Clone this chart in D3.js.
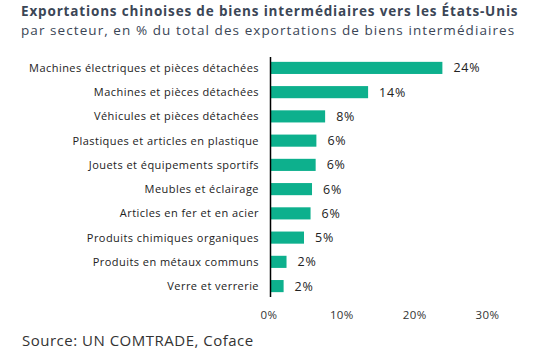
<!DOCTYPE html>
<html>
<head>
<meta charset="utf-8">
<script src="https://cdn.jsdelivr.net/npm/d3@7"></script>
<style>
    body { margin: 0; background: #fff; }
    text { font-family: "Open Sans", sans-serif; }
</style>
</head>
<body>
<svg id="chart" width="536" height="352"></svg>
<script>
    var categories = [
        "Machines électriques et pièces détachées",
        "Machines et pièces détachées",
        "Véhicules et pièces détachées",
        "Plastiques et articles en plastique",
        "Jouets et équipements sportifs",
        "Meubles et éclairage",
        "Articles en fer et en acier",
        "Produits chimiques organiques",
        "Produits en métaux communs",
        "Verre et verrerie"
    ]
    var values = [23.6, 13.4, 7.5, 6.3, 6.2, 5.7, 5.5, 4.6, 2.2, 1.8]
    var valueLabels = ["24%", "14%", "8%", "6%", "6%", "6%", "6%", "5%", "2%", "2%"]
    var xTicks = [0, 10, 20, 30]

    var title = "Exportations chinoises de biens intermédiaires vers les États-Unis"
    var subtitle = "par secteur, en % du total des exportations de biens intermédiaires"
    var source = "Source: UN COMTRADE, Coface"

    var svg = d3.select("#chart")

    var x = d3.scaleLinear().domain([0, 30]).range([270.5, 489])
    var y = d3.scaleBand().domain(categories).range([57, 297])
        .paddingInner(0.5).paddingOuter(0.2)

    svg.append("text").attr("x", 21).attr("y", 16)
        .attr("font-weight", "bold").attr("font-size", 13.5)
        .attr("letter-spacing", 0.84)
        .attr("fill", "#3b4656").text(title)

    svg.append("text").attr("x", 21).attr("y", 35)
        .attr("font-size", 13.5).attr("letter-spacing", 1.07)
        .attr("fill", "#3b4656").text(subtitle)

    svg.selectAll(".bar").data(values).enter().append("rect")
        .attr("class", "bar")
        .attr("x", x(0))
        .attr("y", function(d, i) { return y(categories[i]) })
        .attr("width", function(d) { return x(d) - x(0) })
        .attr("height", y.bandwidth())
        .attr("fill", "#0db08d")

    svg.selectAll(".val").data(values).enter().append("text")
        .attr("class", "val")
        .attr("x", function(d) { return x(d) + 11 })
        .attr("y", function(d, i) { return y(categories[i]) + y.bandwidth() / 2 })
        .attr("dy", "0.36em")
        .attr("font-size", 12.5).attr("letter-spacing", 0.8)
        .attr("fill", "#222")
        .text(function(d, i) { return valueLabels[i] })

    svg.selectAll(".cat").data(categories).enter().append("text")
        .attr("class", "cat")
        .attr("x", 259)
        .attr("y", function(d) { return y(d) + y.bandwidth() / 2 })
        .attr("dy", "0.36em")
        .attr("text-anchor", "end")
        .attr("font-size", 11).attr("letter-spacing", 0.45)
        .attr("fill", "#222")
        .text(function(d) { return d })

    svg.append("line")
        .attr("x1", x(0)).attr("x2", x(0))
        .attr("y1", 57).attr("y2", 297)
        .attr("stroke", "#000").attr("stroke-width", 1.5)

    svg.selectAll(".tick").data(xTicks).enter().append("text")
        .attr("class", "tick")
        .attr("x", function(d) { return x(d) - 1.5 })
        .attr("y", 315).attr("dy", "0.36em")
        .attr("text-anchor", "middle")
        .attr("font-size", 11.5).attr("letter-spacing", 0.4)
        .attr("fill", "#333")
        .text(function(d) { return d + "%" })

    svg.append("text").attr("x", 22).attr("y", 346)
        .attr("font-size", 15).attr("letter-spacing", 0.5)
        .attr("fill", "#333").text(source)
</script>
</body>
</html>
